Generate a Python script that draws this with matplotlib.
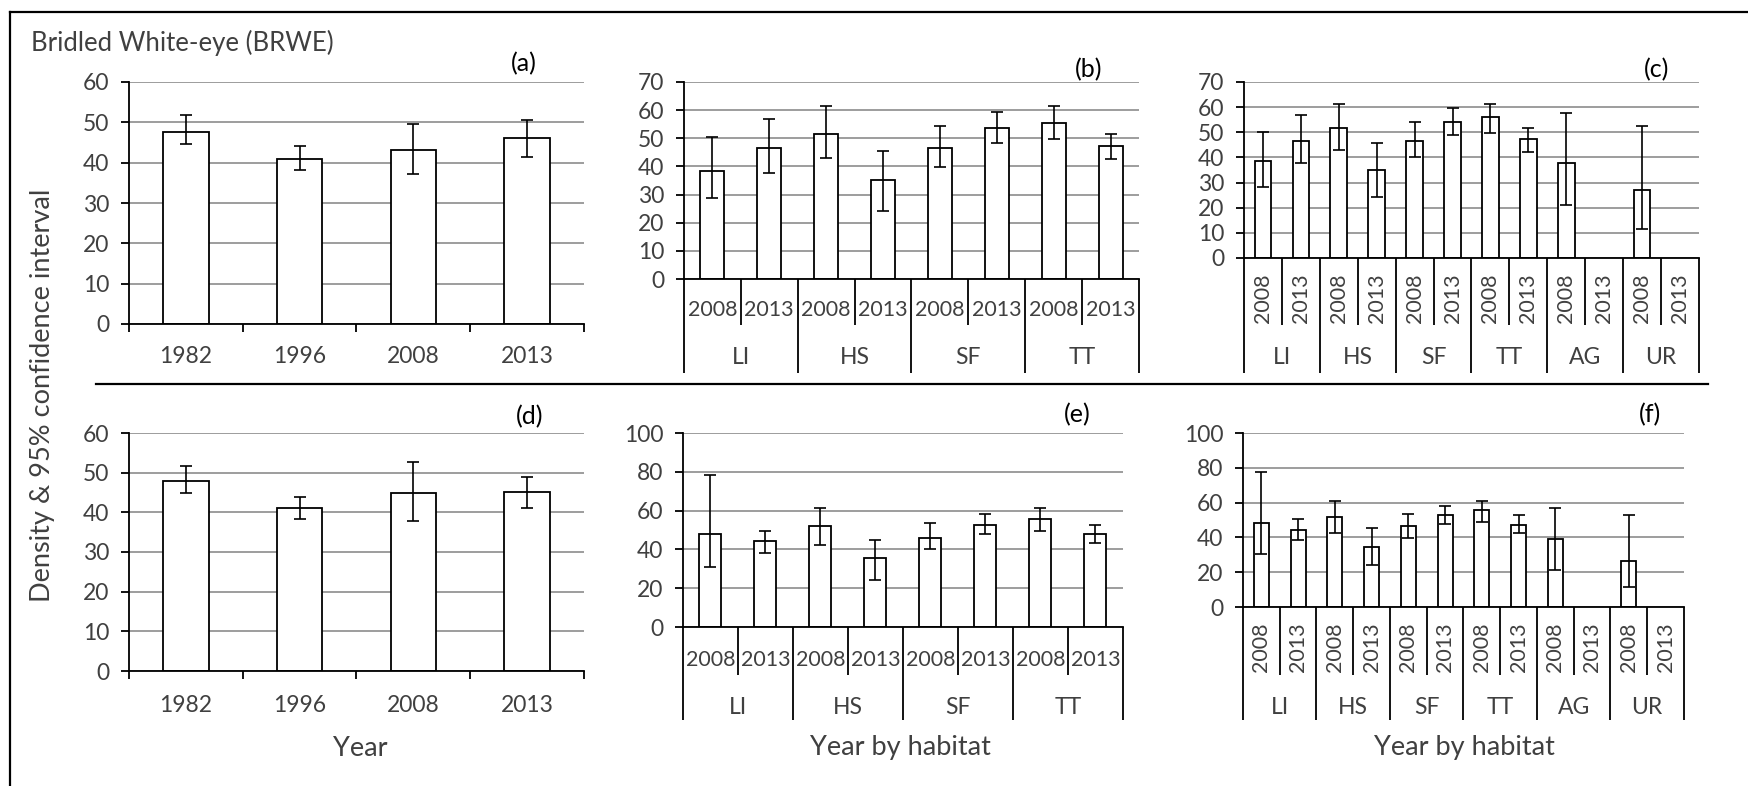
import numpy as np
import matplotlib
matplotlib.use("Agg")
from matplotlib import pyplot as plt
from matplotlib import transforms

plt.rcParams['font.family'] = ['Lato', 'DejaVu Sans']

# survey years and habitat codes
years_all = ['1982', '1996', '2008', '2013']
survey_years = ['2008', '2013']
habitats4 = ['LI', 'HS', 'SF', 'TT']
habitats6 = ['LI', 'HS', 'SF', 'TT', 'AG', 'UR']
nan = np.nan

# (a) density by year
a_dens = [47.7, 40.9, 43.2, 46.0]
a_lo = [44.6, 38.2, 37.3, 41.4]
a_hi = [51.9, 44.1, 49.6, 50.5]

# (b) density by year within habitat
b_dens = [38.4, 46.4, 51.7, 35.2, 46.4, 53.6, 55.5, 47.1]
b_lo = [28.7, 37.8, 43.1, 24.2, 39.8, 48.3, 49.7, 42.5]
b_hi = [50.4, 57.0, 61.4, 45.6, 54.2, 59.5, 61.4, 51.7]

# (c) same, with AG and UR added (no 2013 estimates there)
c_dens = [38.6, 46.7, 51.8, 34.9, 46.7, 54.0, 56.2, 47.4, 37.8, nan, 26.9, nan]
c_lo = [28.3, 37.9, 43.0, 24.1, 40.1, 49.0, 49.6, 42.3, 21.2, nan, 11.7, nan]
c_hi = [50.3, 56.8, 61.2, 45.9, 53.9, 59.8, 61.2, 51.8, 57.5, nan, 52.4, nan]

# (d) density by year, second model
d_dens = [48.0, 41.1, 44.8, 45.2]
d_lo = [44.8, 38.3, 37.8, 41.2]
d_hi = [51.8, 43.9, 52.6, 48.9]

# (e) year by habitat, second model
e_dens = [47.9, 44.1, 51.9, 35.5, 46.0, 52.8, 55.5, 47.9]
e_lo = [30.9, 38.4, 42.2, 24.3, 40.3, 47.9, 49.7, 43.3]
e_hi = [78.1, 49.7, 61.2, 45.0, 53.4, 58.3, 61.2, 52.6]

# (f) year by six habitats, second model
f_dens = [48.2, 44.1, 51.6, 34.7, 46.4, 52.6, 55.7, 47.4, 39.0, nan, 26.3, nan]
f_lo = [30.5, 38.6, 42.8, 24.2, 39.7, 47.8, 49.1, 42.8, 21.1, nan, 11.3, nan]
f_hi = [77.7, 50.5, 60.8, 45.3, 53.6, 57.8, 60.8, 52.6, 56.8, nan, 52.6, nan]

W, H = 1749, 786
FS = 16.5
FS_SMALL = 15.5
GREY_TXT = '#404040'
LW = 1.3

fig = plt.figure(figsize=(W / 100, H / 100), dpi=100)


def fy(y):
    return 1 - y / H


def add_axes_px(l, t, r, b):
    return fig.add_axes([l / W, 1 - b / H, (r - l) / W, (b - t) / H])


def draw_bars(ax, dens, lo, hi, width, ymax, step):
    dens, lo, hi = (np.array(v, dtype=float) for v in (dens, lo, hi))
    x = np.arange(len(dens))
    ok = ~np.isnan(dens)
    ax.bar(x[ok], dens[ok], width, color='white', edgecolor='black',
           linewidth=1.3, zorder=2)
    ax.errorbar(x[ok], dens[ok], yerr=[dens[ok] - lo[ok], hi[ok] - dens[ok]],
                fmt='none', ecolor='black', elinewidth=1.2, capsize=4,
                capthick=1.2, zorder=3)
    ax.set_xlim(-0.5, len(dens) - 0.5)
    ax.set_ylim(0, ymax)
    ax.set_yticks(np.arange(0, ymax + 1, step))
    ax.yaxis.grid(True, color='#8c8c8c', linewidth=1.2)
    ax.set_axisbelow(True)
    for s in ('top', 'right'):
        ax.spines[s].set_visible(False)
    for s in ('left', 'bottom'):
        ax.spines[s].set_linewidth(LW)
    ax.tick_params(axis='y', direction='out', length=6, width=LW,
                   labelcolor=GREY_TXT, labelsize=FS, pad=8)
    ax.tick_params(axis='x', bottom=False, labelbottom=False)


def vline(ax, x, y0, y1):
    tr = transforms.blended_transform_factory(ax.transData, fig.transFigure)
    ax.plot([x, x], [fy(y0), fy(y1)], color='black', lw=LW,
            transform=tr, clip_on=False, solid_capstyle='butt')


def label(ax, x, y, s, rot=0, size=FS):
    tr = transforms.blended_transform_factory(ax.transData, fig.transFigure)
    ax.text(x, fy(y), s, transform=tr, ha='center', va='center',
            rotation=rot, fontsize=size, color=GREY_TXT)


def year_axis(ax, axis_y, label_y):
    n = len(years_all)
    for i in range(n + 1):
        vline(ax, i - 0.5, axis_y, axis_y + 8)
    for i, yr in enumerate(years_all):
        label(ax, i, label_y, yr)


def habitat_axis(ax, habs, axis_y, yr_y, inner_y, outer_y, hab_y, rot):
    n = len(habs) * 2
    for i in range(n + 1):
        bottom = outer_y if i % 2 == 0 else inner_y
        vline(ax, i - 0.5, axis_y, bottom)
    for i in range(n):
        label(ax, i, yr_y, survey_years[i % 2], rot=rot, size=FS_SMALL)
    for j, h in enumerate(habs):
        label(ax, 2 * j + 0.5, hab_y, h)


def panel_tag(x, y, s):
    fig.text(x / W, fy(y), s, ha='center', va='center', fontsize=18,
             color='black')


# top row
ax_a = add_axes_px(129, 82, 584, 324)
draw_bars(ax_a, a_dens, a_lo, a_hi, 0.4, 60, 10)
year_axis(ax_a, 324, 357)

ax_b = add_axes_px(684, 82, 1139, 279)
draw_bars(ax_b, b_dens, b_lo, b_hi, 0.42, 70, 10)
habitat_axis(ax_b, habitats4, 279, 310, 325, 373, 358, 0)

ax_c = add_axes_px(1244, 82, 1699, 258)
draw_bars(ax_c, c_dens, c_lo, c_hi, 0.44, 70, 10)
habitat_axis(ax_c, habitats6, 258, 298, 325, 373, 358, 90)

# bottom row
ax_d = add_axes_px(129, 433, 584, 671)
draw_bars(ax_d, d_dens, d_lo, d_hi, 0.4, 60, 10)
year_axis(ax_d, 671, 705)

ax_e = add_axes_px(683, 433, 1123, 627)
draw_bars(ax_e, e_dens, e_lo, e_hi, 0.4, 100, 20)
habitat_axis(ax_e, habitats4, 627, 660, 675, 720, 707, 0)

ax_f = add_axes_px(1243, 433, 1684, 607)
draw_bars(ax_f, f_dens, f_lo, f_hi, 0.41, 100, 20)
habitat_axis(ax_f, habitats6, 607, 647, 675, 720, 707, 90)

panel_tag(524, 64, '(a)')
panel_tag(1089, 70, '(b)')
panel_tag(1657, 70, '(c)')
panel_tag(530, 417, '(d)')
panel_tag(1077, 415, '(e)')
panel_tag(1650, 415, '(f)')

# axis titles
fig.text(360 / W, fy(748), 'Year', ha='center', va='center', fontsize=19.5,
         color=GREY_TXT)
fig.text(900 / W, fy(748), 'Year by habitat', ha='center', va='center',
         fontsize=19.5, color=GREY_TXT)
fig.text(1464 / W, fy(748), 'Year by habitat', ha='center', va='center',
         fontsize=19.5, color=GREY_TXT)
fig.text(43 / W, fy(395), 'Density & 95% confidence interval', rotation=90,
         ha='center', va='center', fontsize=19.5, color=GREY_TXT)
fig.text(31 / W, fy(43), 'Bridled White-eye (BRWE)', ha='left',
         va='center', fontsize=18.5, color=GREY_TXT)

# frame and row divider
fig.add_artist(plt.Line2D([10 / W, 10 / W], [0, fy(12)], color='black',
                          lw=1.6, transform=fig.transFigure))
fig.add_artist(plt.Line2D([10 / W, 1], [fy(12), fy(12)], color='black',
                          lw=1.6, transform=fig.transFigure))
fig.add_artist(plt.Line2D([96 / W, 1708 / W], [fy(384), fy(384)],
                          color='black', lw=1.6, transform=fig.transFigure))

fig.savefig('out.png', dpi=100, facecolor='white')
